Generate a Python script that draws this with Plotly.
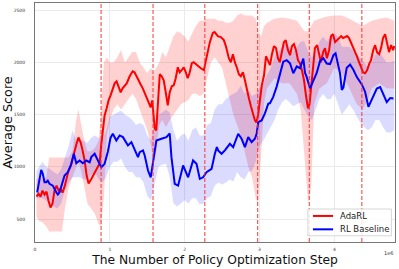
import plotly.graph_objects as go

# ---------------- data (x in units of 1e6 steps) ----------------
ada_x = [0.02, 0.047, 0.074, 0.10, 0.127, 0.154, 0.18, 0.207, 0.234, 0.26, 0.288, 0.315, 0.34, 0.368, 0.395,
         0.42, 0.448, 0.475, 0.50, 0.53, 0.556, 0.58, 0.61, 0.636, 0.663, 0.69, 0.716, 0.756, 0.797, 0.837,
         0.863, 0.884, 0.904, 0.93, 0.957, 0.983, 1.01, 1.037, 1.064, 1.09, 1.118, 1.145, 1.17, 1.198, 1.225,
         1.265, 1.305, 1.33, 1.36, 1.386, 1.41, 1.44, 1.466, 1.493, 1.52, 1.546, 1.566, 1.58, 1.60, 1.62,
         1.64, 1.667, 1.693, 1.72, 1.747, 1.774, 1.80, 1.827, 1.854, 1.88, 1.908, 1.934, 1.96, 1.988, 2.015,
         2.04, 2.068, 2.095, 2.12, 2.149, 2.175, 2.216, 2.256, 2.296, 2.336, 2.376, 2.40, 2.443, 2.483, 2.523,
         2.55, 2.59, 2.617, 2.644, 2.67, 2.70, 2.724, 2.75, 2.778, 2.805, 2.83, 2.858, 2.885, 2.91, 2.938,
         2.958, 2.98, 3.005, 3.03, 3.06, 3.086, 3.11, 3.14, 3.166, 3.193, 3.22, 3.246, 3.27, 3.30, 3.326,
         3.35, 3.38, 3.407, 3.434, 3.46, 3.487, 3.514, 3.54, 3.567, 3.594, 3.62, 3.647, 3.668, 3.69, 3.715,
         3.74, 3.77, 3.795, 3.82, 3.85, 3.875, 3.90, 3.93, 3.955, 3.98, 4.01, 4.036, 4.06, 4.09, 4.116,
         4.14, 4.17, 4.196, 4.22, 4.25, 4.277, 4.30, 4.33, 4.357, 4.383, 4.41, 4.437, 4.464, 4.49, 4.518,
         4.544, 4.57, 4.598, 4.624, 4.65, 4.678, 4.705, 4.73, 4.758, 4.785, 4.80]
ada_y = [715, 743, 715, 772, 734, 763, 676, 610, 647, 772, 820, 772, 791, 753, 810,
         888, 965, 1003, 1080, 1157, 1224, 1282, 1234, 1157, 1061, 917, 840, 888, 946, 1003,
         1032, 1205, 1349, 1493, 1560, 1637, 1685, 1752, 1800, 1820, 1772, 1714, 1752, 1772, 1800,
         1868, 1916, 1906, 1868, 1830, 1791, 1752, 1705, 1666, 1618, 1570, 1637, 1522, 1368, 1349,
         1589, 1887, 1868, 1830, 1714, 1589, 1714, 1772, 1781, 1849, 1954, 1906, 1926, 1954, 1906,
         1849, 1906, 1993, 2003, 1984, 1964, 1945, 1926, 2070, 2195, 2282, 2291, 2253, 2243, 2214,
         2157, 2041, 2003, 2080, 2003, 1945, 1887, 1868, 1906, 1830, 1734, 1657, 1580, 1512, 1445,
         1426, 1493, 1637, 1781, 1877, 2060, 2022, 1974, 2080, 2157, 2138, 2041, 2003, 2099, 2195,
         2214, 2118, 2070, 2157, 2176, 2118, 2022, 1993, 1926, 1830, 1685, 1560, 1599, 1753, 1926,
         2138, 2166, 2070, 2003, 2099, 2138, 2041, 2118, 2253, 2272, 2195, 2214, 2234, 2253, 2234,
         2243, 2253, 2234, 2195, 2157, 2099, 2060, 2003, 1945, 1906, 1897, 1926, 1984, 2022, 2118,
         2166, 2099, 2080, 2138, 2234, 2272, 2195, 2099, 2166, 2118, 2157]

base_x = [0.029, 0.060, 0.083, 0.104, 0.127, 0.150, 0.171, 0.194, 0.238, 0.284, 0.305, 0.328, 0.351, 0.395,
          0.439, 0.485, 0.519, 0.552, 0.596, 0.640, 0.685, 0.730, 0.752, 0.797, 0.841, 0.886, 0.930, 0.975,
          1.01, 1.04, 1.087, 1.131, 1.175, 1.242, 1.288, 1.331, 1.376, 1.399, 1.443, 1.466, 1.51, 1.546,
          1.577, 1.622, 1.689, 1.756, 1.80, 1.823, 1.867, 1.912, 1.979, 2.046, 2.112, 2.158, 2.202, 2.246,
          2.292, 2.359, 2.403, 2.43, 2.447, 2.493, 2.537, 2.604, 2.648, 2.715, 2.760, 2.805, 2.849, 2.894,
          2.938, 2.961, 2.983, 3.028, 3.072, 3.117, 3.139, 3.183, 3.229, 3.273, 3.317, 3.363, 3.407, 3.451,
          3.497, 3.541, 3.585, 3.608, 3.63, 3.675, 3.719, 3.764, 3.809, 3.853, 3.898, 3.942, 3.965, 3.987,
          4.016, 4.054, 4.076, 4.099, 4.12, 4.165, 4.21, 4.254, 4.30, 4.367, 4.41, 4.455, 4.50, 4.567,
          4.612, 4.656, 4.70, 4.746, 4.79]
base_y = [756, 900, 971, 933, 852, 852, 868, 837, 820, 756, 734, 756, 804, 917,
          948, 1029, 1125, 1035, 1061, 1035, 1061, 1044, 1093, 1125, 1061, 996, 1029, 1150,
          1280, 1317, 1253, 1301, 1285, 1205, 1237, 1157, 1093, 1141, 1157, 1109, 965, 900,
          1029, 1253, 1269, 1285, 1320, 1093, 837, 820, 1013, 900, 1061, 1029, 885, 900,
          948, 981, 1125, 1189, 1157, 1125, 1157, 1221, 1189, 1317, 1269, 1189, 1285, 1237,
          1269, 1317, 1429, 1445, 1512, 1606, 1609, 1670, 1769, 1897, 2008, 2022, 1993, 1897,
          1962, 1945, 2038, 1900, 1862, 1752, 1830, 1900, 2015, 2040, 1990, 1985, 2025, 2070,
          2088, 1977, 1894, 1737, 1760, 1950, 1980, 1930, 1860, 1790, 1720, 1575, 1645, 1750,
          1765, 1695, 1620, 1660, 1655]

# shaded spread (lower / upper envelopes)
ada_band_x = [0.02, 0.06, 0.10, 0.15, 0.19, 0.25, 0.30, 0.36, 0.40, 0.45, 0.50, 0.55, 0.58, 0.62, 0.66,
              0.70, 0.75, 0.80, 0.85, 0.88, 0.92, 0.96, 1.00, 1.05, 1.10, 1.15, 1.20, 1.25, 1.30, 1.35,
              1.40, 1.45, 1.50, 1.55, 1.58, 1.62, 1.66, 1.70, 1.75, 1.80, 1.85, 1.90, 1.95, 2.00, 2.05,
              2.10, 2.15, 2.20, 2.25, 2.30, 2.35, 2.40, 2.45, 2.50, 2.55, 2.60, 2.65, 2.70, 2.75, 2.80,
              2.85, 2.90, 2.95, 2.98, 3.02, 3.06, 3.10, 3.20, 3.30, 3.40, 3.50, 3.55, 3.60, 3.65, 3.69,
              3.73, 3.80, 3.90, 4.00, 4.10, 4.20, 4.30, 4.38, 4.45, 4.50, 4.60, 4.70, 4.80]
ada_lo = [520, 480, 470, 430, 380, 380, 380, 380, 600, 800, 900, 1000, 1050, 950, 800,
          650, 600, 550, 450, 430, 700, 1300, 1450, 1550, 1600, 1550, 1600, 1650, 1700, 1650,
          1550, 1450, 1350, 1200, 1050, 1150, 1400, 1450, 1380, 1450, 1500, 1550, 1600, 1620, 1640,
          1700, 1700, 1680, 1700, 1850, 2000, 2050, 2000, 1950, 1800, 1650, 1500, 1400, 1300, 1150,
          1000, 900, 700, 650, 1100, 1600, 1750, 1850, 1800, 1800, 1700, 1550, 1100, 650, 800,
          1600, 1750, 1800, 1950, 1900, 1750, 1600, 1550, 1650, 1750, 1800, 1750, 1750]
ada_hi = [880, 900, 880, 900, 1090, 1090, 1090, 1090, 1090, 1090, 1150, 1450, 1550, 1400, 1250,
          1150, 1150, 1180, 1250, 1500, 2000, 2050, 2000, 2000, 2050, 2120, 2000, 2050, 2100, 2100,
          2000, 1950, 1900, 1950, 1900, 1950, 2000, 2100, 2050, 2150, 2250, 2300, 2280, 2250, 2200,
          2280, 2350, 2400, 2400, 2420, 2420, 2420, 2400, 2400, 2380, 2380, 2400, 2450, 2470, 2450,
          2450, 2450, 2420, 2300, 2250, 2350, 2380, 2420, 2430, 2420, 2400, 2350, 2300, 2300, 2350,
          2400, 2420, 2440, 2450, 2450, 2420, 2380, 2350, 2380, 2400, 2420, 2430, 2400]

base_band_x = [0.02, 0.06, 0.10, 0.15, 0.20, 0.25, 0.30, 0.35, 0.40, 0.45, 0.50, 0.55, 0.60, 0.65, 0.70,
               0.75, 0.80, 0.85, 0.90, 0.95, 1.00, 1.05, 1.10, 1.15, 1.20, 1.25, 1.30, 1.35, 1.40, 1.45,
               1.50, 1.55, 1.60, 1.65, 1.70, 1.75, 1.80, 1.85, 1.90, 1.95, 2.00, 2.05, 2.10, 2.15, 2.20,
               2.25, 2.30, 2.35, 2.40, 2.45, 2.50, 2.55, 2.60, 2.65, 2.70, 2.75, 2.80, 2.85, 2.90, 2.95,
               3.00, 3.05, 3.10, 3.15, 3.20, 3.25, 3.30, 3.35, 3.40, 3.45, 3.50, 3.55, 3.60, 3.65, 3.70,
               3.75, 3.80, 3.85, 3.90, 3.95, 4.00, 4.05, 4.10, 4.15, 4.20, 4.25, 4.30, 4.35, 4.40, 4.45,
               4.50, 4.55, 4.60, 4.65, 4.70, 4.75, 4.80]
base_lo = [700, 700, 700, 680, 650, 620, 600, 650, 780, 850, 900, 900, 900, 880, 880,
           920, 950, 880, 850, 900, 1000, 1050, 1050, 1080, 1000, 950, 950, 900, 900, 850,
           720, 680, 850, 1000, 1020, 1030, 900, 650, 620, 650, 680, 650, 700, 700, 640,
           650, 700, 720, 820, 850, 830, 850, 880, 860, 950, 900, 880, 950, 960, 1050,
           1200, 1250, 1320, 1380, 1450, 1550, 1620, 1650, 1620, 1580, 1600, 1620, 1550, 1480, 1450,
           1550, 1650, 1700, 1650, 1650, 1700, 1600, 1500, 1550, 1600, 1550, 1480, 1420, 1380, 1350,
           1380, 1450, 1450, 1380, 1330, 1330, 1350]
base_hi = [960, 1000, 1050, 1000, 980, 950, 930, 980, 1100, 1200, 1350, 1250, 1250, 1250, 1230,
           1280, 1300, 1280, 1250, 1350, 1480, 1500, 1520, 1540, 1500, 1480, 1450, 1400, 1420, 1400,
           1300, 1250, 1420, 1500, 1520, 1550, 1520, 1350, 1250, 1300, 1320, 1250, 1350, 1380, 1300,
           1300, 1400, 1420, 1550, 1600, 1600, 1650, 1680, 1700, 1720, 1780, 1700, 1730, 1680, 1700,
           1750, 1800, 1880, 1950, 2050, 2100, 2150, 2200, 2150, 2100, 2150, 2200, 2200, 2100, 2050,
           2100, 2200, 2250, 2200, 2250, 2280, 2250, 2150, 2150, 2150, 2120, 2080, 2050, 2000, 1950,
           2000, 2080, 2100, 2050, 2000, 2000, 2020]

stage_bounds = [0.883, 1.577, 2.269, 2.975, 3.665, 4.367]
x_ticks = [0, 1, 2, 3, 4]
y_ticks = [500, 1000, 1500, 2000, 2500]
series_names = ["AdaRL", "RL Baseline"]
series_colors = ["#ff0000", "#0000ff"]

# ---------------- figure ----------------
fig = go.Figure()

fig.add_trace(go.Scatter(
    x=ada_band_x + ada_band_x[::-1], y=ada_hi + ada_lo[::-1],
    fill="toself", fillcolor="rgba(255,0,0,0.18)", line=dict(width=0),
    hoverinfo="skip", showlegend=False))
fig.add_trace(go.Scatter(
    x=base_band_x + base_band_x[::-1], y=base_hi + base_lo[::-1],
    fill="toself", fillcolor="rgba(0,0,255,0.14)", line=dict(width=0),
    hoverinfo="skip", showlegend=False))

fig.add_trace(go.Scatter(x=ada_x, y=ada_y, mode="lines", name=series_names[0],
                         line=dict(color=series_colors[0], width=2), showlegend=False))
fig.add_trace(go.Scatter(x=base_x, y=base_y, mode="lines", name=series_names[1],
                         line=dict(color=series_colors[1], width=2), showlegend=False))

for b in stage_bounds:
    fig.add_shape(type="line", xref="x", yref="paper", x0=b, x1=b, y0=0, y1=1,
                  line=dict(color="rgba(255,40,40,0.85)", width=1.1, dash="4px,2px"))

# compact legend box (matplotlib-style)
fig.add_shape(type="rect", xref="paper", yref="paper", x0=0.758, x1=0.990, y0=0.026, y1=0.138,
              line=dict(color="#cccccc", width=0.8), fillcolor="rgba(255,255,255,0.85)", layer="above")
for i, (nm, col) in enumerate(zip(series_names, series_colors)):
    yy = 0.109 - i * 0.056
    fig.add_shape(type="line", xref="paper", yref="paper", x0=0.772, x1=0.828, y0=yy, y1=yy,
                  line=dict(color=col, width=2), layer="above")
    fig.add_annotation(text=nm, xref="paper", yref="paper", x=0.842, y=yy, xanchor="left",
                       yanchor="middle", showarrow=False, font=dict(size=8.5, color="#222"))

fig.add_annotation(text="1e6", xref="paper", yref="paper", x=1.0, y=-0.025,
                   xanchor="right", yanchor="top", showarrow=False,
                   font=dict(size=5, color="#333", family="DejaVu Sans"))

fig.update_layout(
    width=399, height=269,
    margin=dict(l=35, r=4, t=3, b=27),
    paper_bgcolor="white", plot_bgcolor="white",
    font=dict(family="DejaVu Sans", color="#222"),
    showlegend=False,
)
fig.update_xaxes(range=[0, 4.81], tickvals=x_ticks, ticktext=[str(t) for t in x_ticks],
                 showgrid=True, gridcolor="#ebebeb", gridwidth=0.8, zeroline=False,
                 showline=True, linecolor="#777", linewidth=1, mirror=True,
                 ticks="outside", ticklen=3, tickcolor="rgba(0,0,0,0)",
                 tickfont=dict(size=4.5, color="#333"),
                 title=dict(text="The Number of Policy Optimization Step",
                            font=dict(size=12.3, color="#111"), standoff=3))
fig.update_yaxes(range=[280, 2570], tickvals=y_ticks, ticktext=[str(t) for t in y_ticks],
                 showgrid=True, gridcolor="#ebebeb", gridwidth=0.8, zeroline=False,
                 showline=True, linecolor="#777", linewidth=1, mirror=True,
                 ticks="outside", ticklen=8, tickcolor="rgba(0,0,0,0)",
                 tickfont=dict(size=4.5, color="#333"),
                 title=dict(text="Average Score", font=dict(size=12.8, color="#111"), standoff=2))

fig.write_html("out.html", config={"displayModeBar": False},
               post_script="document.body.style.margin='0';document.body.style.padding='0';")
